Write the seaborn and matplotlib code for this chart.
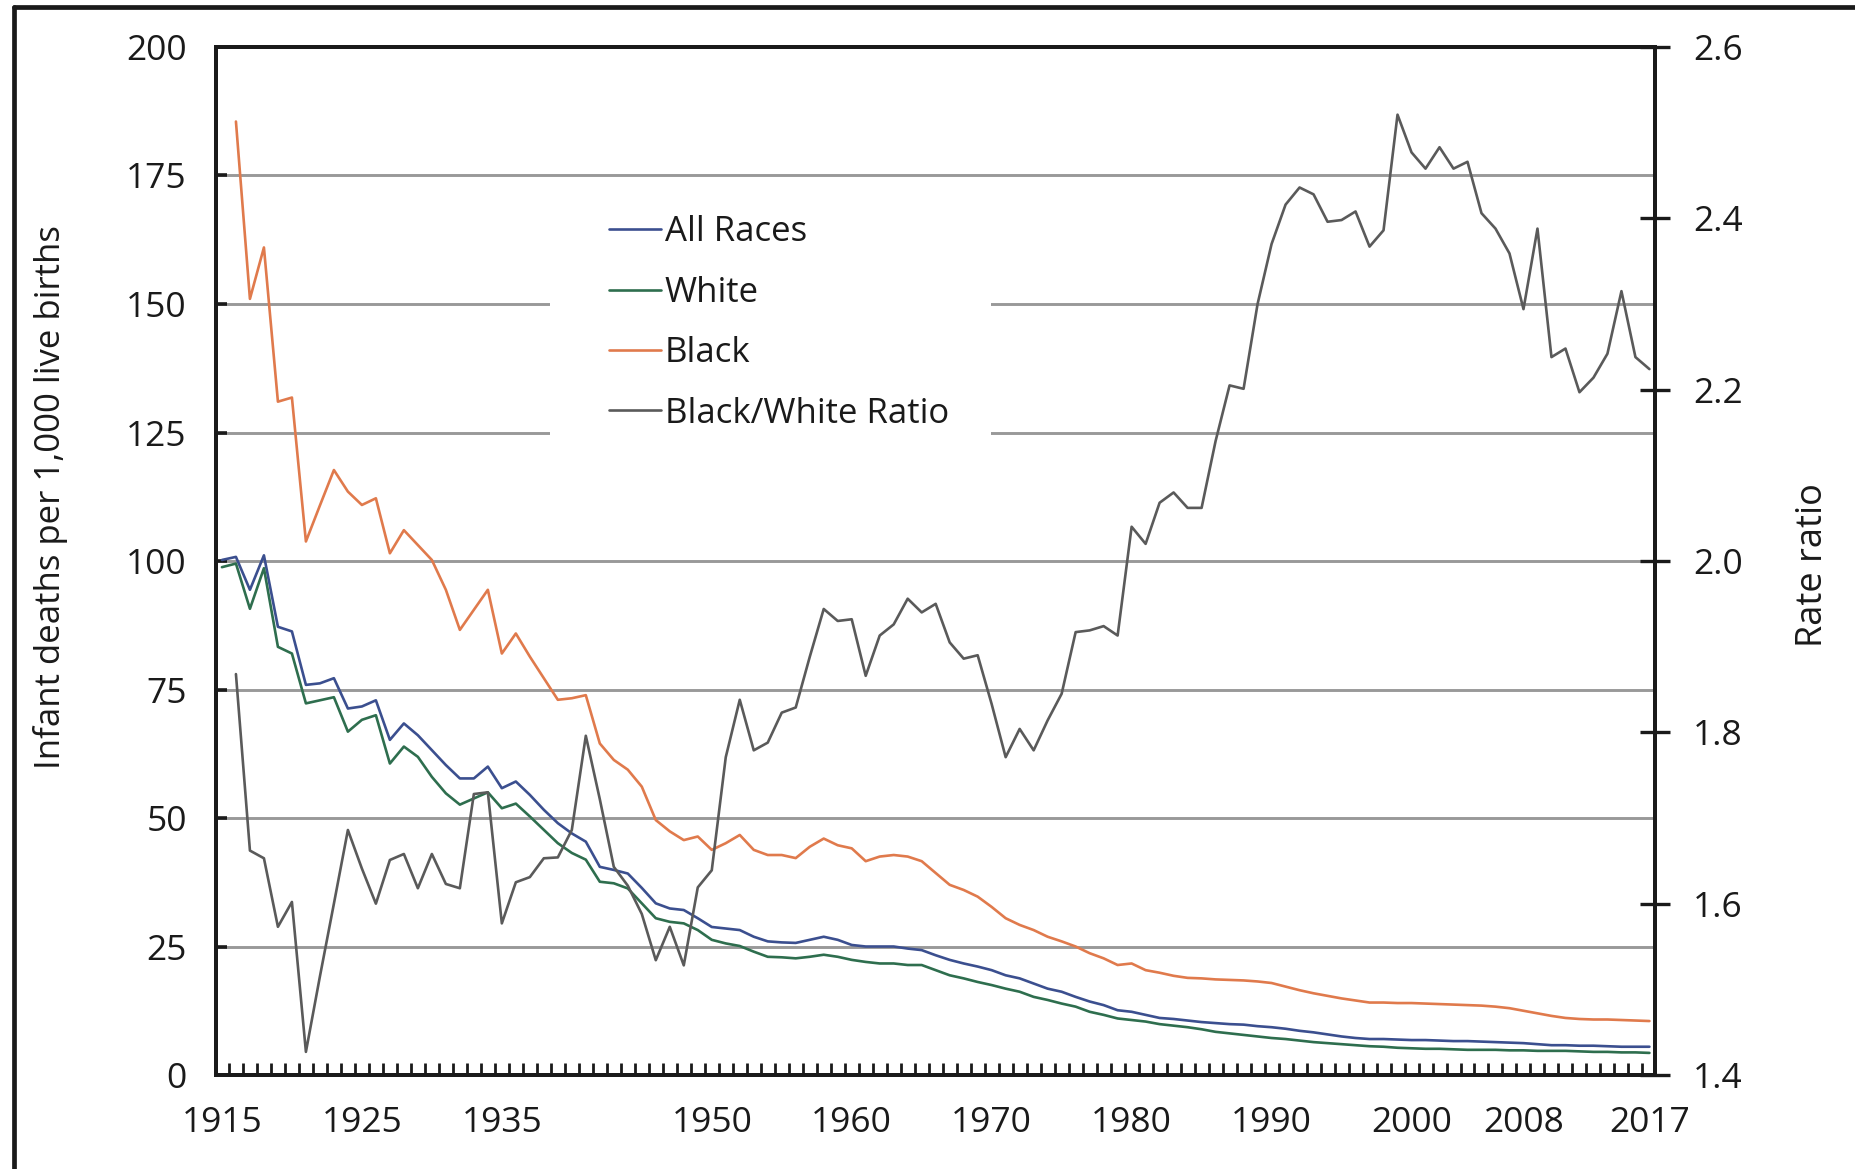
import numpy as np
import pandas as pd
import seaborn as sns
import matplotlib.pyplot as plt
from matplotlib.lines import Line2D
from matplotlib.patches import Rectangle
from matplotlib.ticker import FormatStrFormatter

sns.set_style("white")
plt.rcParams['font.family'] = ['Open Sans', 'DejaVu Sans']

years = list(range(1915, 2018))

# infant deaths per 1,000 live births
all_races = [
    100.2, 100.8, 94.4, 101.1, 87.2, 86.3, 75.9, 76.2, 77.2, 71.3,   # 1915-1924
    71.7, 72.9, 65.2, 68.4, 66.1, 63.2, 60.3, 57.7, 57.7, 60.0,      # 1925-1934
    55.8, 57.1, 54.5, 51.6, 49.0, 47.0, 45.4, 40.5, 39.9, 39.2,      # 1935-1944
    36.4, 33.4, 32.4, 32.1, 30.5, 28.8, 28.5, 28.2, 26.9, 26.0,      # 1945-1954
    25.8, 25.7, 26.3, 26.9, 26.3, 25.3, 25.0, 25.0, 25.0, 24.6,      # 1955-1964
    24.3, 23.3, 22.4, 21.7, 21.1, 20.4, 19.4, 18.8, 17.8, 16.8,      # 1965-1974
    16.2, 15.2, 14.3, 13.6, 12.6, 12.3, 11.7, 11.1, 10.9, 10.6,      # 1975-1984
    10.3, 10.1, 9.9, 9.8, 9.5, 9.3, 9.0, 8.6, 8.3, 7.9,              # 1985-1994
    7.5, 7.2, 7.0, 7.0, 6.9, 6.8, 6.8, 6.7, 6.6, 6.6,                # 1995-2004
    6.5, 6.4, 6.3, 6.2, 6.0, 5.8, 5.8, 5.7, 5.7, 5.6,                # 2005-2014
    5.5, 5.5, 5.5,                                                   # 2015-2017
]

white = [
    98.8, 99.5, 90.7, 98.6, 83.3, 82.0, 72.3, 72.9, 73.5, 66.8,
    69.1, 70.0, 60.6, 63.9, 61.9, 58.0, 54.8, 52.6, 53.8, 55.0,
    51.9, 52.8, 50.3, 47.7, 45.1, 43.2, 41.9, 37.6, 37.3, 36.3,
    33.4, 30.5, 29.8, 29.5, 28.2, 26.3, 25.6, 25.1, 24.0, 23.0,
    22.9, 22.7, 23.0, 23.4, 23.0, 22.4, 22.0, 21.7, 21.7, 21.4,
    21.4, 20.4, 19.4, 18.8, 18.1, 17.5, 16.8, 16.2, 15.2, 14.6,
    13.9, 13.3, 12.3, 11.7, 11.0, 10.7, 10.4, 9.9, 9.6, 9.3,
    8.9, 8.4, 8.1, 7.8, 7.5, 7.2, 7.0, 6.7, 6.4, 6.2,
    6.0, 5.8, 5.6, 5.5, 5.3, 5.2, 5.1, 5.1, 5.0, 4.9,
    4.9, 4.9, 4.8, 4.8, 4.7, 4.7, 4.7, 4.6, 4.5, 4.5,
    4.4, 4.4, 4.3,
]

black = [
    np.nan, 185.5, 151.0, 161.0, 131.0, 131.8, 103.8, 110.8, 117.7, 113.5,
    110.9, 112.2, 101.5, 106.0, 103.1, 100.2, 94.4, 86.6, 90.5, 94.4,
    82.0, 85.9, 81.4, 77.2, 73.0, 73.3, 73.9, 64.5, 61.3, 59.4,
    56.1, 49.6, 47.4, 45.7, 46.4, 43.8, 45.1, 46.7, 43.8, 42.8,
    42.8, 42.2, 44.4, 46.0, 44.7, 44.1, 41.6, 42.5, 42.8, 42.5,
    41.6, 39.3, 37.0, 36.0, 34.7, 32.7, 30.5, 29.2, 28.2, 26.9,
    26.0, 25.0, 23.7, 22.7, 21.4, 21.7, 20.4, 19.9, 19.3, 18.9,
    18.8, 18.6, 18.5, 18.4, 18.2, 17.9, 17.2, 16.5, 15.9, 15.4,
    14.9, 14.5, 14.1, 14.1, 14.0, 14.0, 13.9, 13.8, 13.7, 13.6,
    13.5, 13.3, 13.0, 12.5, 12.0, 11.5, 11.1, 10.9, 10.8, 10.8,
    10.7, 10.6, 10.5,
]

# black/white rate ratio (right axis)
ratio = [
    np.nan, 1.868, 1.662, 1.653, 1.573, 1.602, 1.427, 1.515, 1.600, 1.686,
    1.641, 1.600, 1.651, 1.658, 1.618, 1.658, 1.623, 1.618, 1.728, 1.730,
    1.577, 1.625, 1.631, 1.653, 1.654, 1.686, 1.796, 1.722, 1.643, 1.621,
    1.588, 1.534, 1.573, 1.528, 1.619, 1.639, 1.771, 1.838, 1.779, 1.788,
    1.823, 1.829, 1.888, 1.944, 1.930, 1.932, 1.866, 1.913, 1.926, 1.956,
    1.940, 1.950, 1.905, 1.886, 1.890, 1.833, 1.771, 1.804, 1.779, 1.814,
    1.845, 1.917, 1.919, 1.924, 1.913, 2.040, 2.020, 2.068, 2.080, 2.062,
    2.062, 2.140, 2.205, 2.201, 2.300, 2.370, 2.416, 2.436, 2.428, 2.396,
    2.398, 2.408, 2.367, 2.386, 2.521, 2.477, 2.458, 2.483, 2.458, 2.466,
    2.406, 2.388, 2.359, 2.294, 2.388, 2.238, 2.248, 2.197, 2.214, 2.242,
    2.315, 2.238, 2.224,
]

label_years = [1915, 1925, 1935, 1950, 1960, 1970, 1980, 1990, 2000, 2008, 2017]

df = pd.DataFrame({"year": years, "All Races": all_races, "White": white,
                   "Black": black, "Black/White Ratio": ratio})

colors = {"All Races": "#3b4f8f", "White": "#2e6e4e",
          "Black": "#e07a4c", "Black/White Ratio": "#5a5a5a"}
ink = "#1a1a1a"

fig = plt.figure(figsize=(18.55, 11.69), dpi=100)
ax = fig.add_axes([0.1164, 0.0804, 0.7758, 0.8794])
ax2 = ax.twinx()

for col in ["All Races", "White", "Black"]:
    sns.lineplot(data=df, x="year", y=col, ax=ax, color=colors[col],
                 lw=1.9, label=col, legend=False, estimator=None)
sns.lineplot(data=df, x="year", y="Black/White Ratio", ax=ax2,
             color=colors["Black/White Ratio"], lw=1.9,
             label="Black/White Ratio", legend=False, estimator=None)

ax.set_xlim(1914.57, 2017.4)
ax.set_ylim(0, 200)
ax2.set_ylim(1.4, 2.6)
ax.set_xlabel("")
ax.set_ylabel("")
ax2.set_ylabel("")

ax.set_yticks(range(0, 201, 25))
ax.set_xticks(label_years)
ax.set_xticks(np.arange(1915.5, 2017, 1), minor=True)
ax2.set_yticks(np.arange(1.4, 2.61, 0.2))
ax2.yaxis.set_major_formatter(FormatStrFormatter("%.1f"))

ax.grid(axis="y", color="#999999", lw=2.1)
ax.grid(axis="x", visible=False)
ax.set_axisbelow(True)

ax.tick_params(axis="y", left=True, direction="in", length=8, width=2.6,
               labelsize=25.5, pad=21, colors=ink)
ax.tick_params(axis="x", which="major", bottom=True, length=0,
               labelsize=25.5, pad=22, colors=ink)
ax.tick_params(axis="x", which="minor", bottom=True, direction="in",
               length=8.5, width=2.0, color=ink)
ax2.tick_params(axis="y", right=True, direction="inout", length=21,
                width=2.4, labelsize=25.5, pad=17, colors=ink)

for a in (ax, ax2):
    for s in a.spines.values():
        s.set_linewidth(2.8)
        s.set_color(ink)

fig.text(0.027, 1 - 497 / 1169, "Infant deaths per 1,000 live births",
         rotation=90, ha="center", va="center", fontsize=25, color=ink)
fig.text(0.9774, 1 - 565 / 1169, "Rate ratio", rotation=90,
         ha="center", va="center", fontsize=26, color=ink)

# white backdrop behind the legend, cutting the gridlines
ax2.add_patch(Rectangle((0.232, 0.608), 0.3066, 0.253, transform=ax2.transAxes,
                        facecolor="white", edgecolor="none", zorder=1))

handles = ax.get_lines()[:3] + ax2.get_lines()[:1]
leg = ax2.legend(handles, [h.get_label() for h in handles],
                 loc="upper left", bbox_to_anchor=(0.319, 0.8306),
                 bbox_transform=fig.transFigure, fontsize=25,
                 frameon=False, borderpad=0, labelcolor=ink,
                 handlelength=1.5, handletextpad=0.1, labelspacing=0.76)

# outer border (left and top edges)
fig.add_artist(Line2D([14 / 1855, 14 / 1855], [0, 1 - 7 / 1169],
                      transform=fig.transFigure, color=ink, lw=3.4))
fig.add_artist(Line2D([14 / 1855, 1], [1 - 7 / 1169, 1 - 7 / 1169],
                      transform=fig.transFigure, color=ink, lw=3.4))

fig.savefig("out.png", dpi=100)
